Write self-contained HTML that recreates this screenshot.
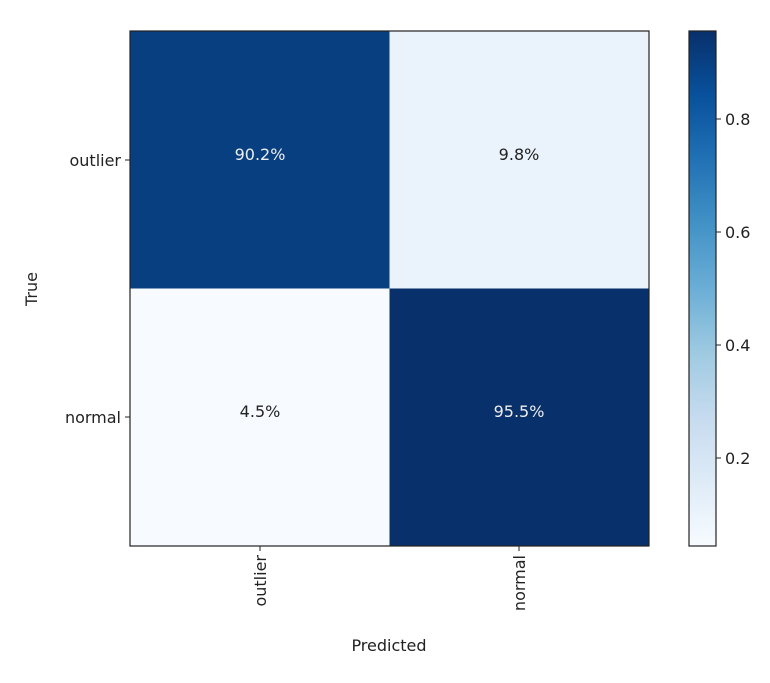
<!DOCTYPE html>
<html><head><style>body{margin:0;background:#fff;}</style></head><body>
<svg width="770" height="678" xmlns="http://www.w3.org/2000/svg" font-family="DejaVu Sans, Liberation Sans, sans-serif" font-size="16">
<defs><linearGradient id="g" x1="0" y1="1" x2="0" y2="0">
<stop offset="0" stop-color="#f7fbff"/><stop offset="0.125" stop-color="#deebf7"/><stop offset="0.25" stop-color="#c6dbef"/><stop offset="0.375" stop-color="#9ecae1"/><stop offset="0.5" stop-color="#6baed6"/><stop offset="0.625" stop-color="#4292c6"/><stop offset="0.75" stop-color="#2171b5"/><stop offset="0.875" stop-color="#08519c"/><stop offset="1" stop-color="#08306b"/></linearGradient></defs>
<rect x="130" y="31" width="259.5" height="257.5" fill="#083f80"/>
<rect x="389.5" y="31" width="259.5" height="257.5" fill="#eaf2fb"/>
<rect x="130" y="288.5" width="259.5" height="257.5" fill="#f7fbff"/>
<rect x="389.5" y="288.5" width="259.5" height="257.5" fill="#08306b"/>
<rect x="130" y="31" width="519" height="515" fill="none" stroke="#222" stroke-width="1.2"/>
<g text-anchor="middle">
<text x="260" y="160" fill="#eee">90.2%</text>
<text x="519" y="160" fill="#222">9.8%</text>
<text x="260" y="417" fill="#222">4.5%</text>
<text x="519" y="417" fill="#eee">95.5%</text>
</g>
<g stroke="#222"><line x1="125" y1="160" x2="130" y2="160"/><line x1="125" y1="417" x2="130" y2="417"/><line x1="260" y1="546" x2="260" y2="551"/><line x1="519" y1="546" x2="519" y2="551"/></g>
<g text-anchor="end" fill="#222">
<text x="121" y="166">outlier</text><text x="121" y="423">normal</text></g>
<text transform="translate(266,555) rotate(-90)" text-anchor="end" fill="#222">outlier</text>
<text transform="translate(525,555) rotate(-90)" text-anchor="end" fill="#222">normal</text>
<text x="389" y="651" text-anchor="middle" fill="#222">Predicted</text>
<text transform="translate(37,289) rotate(-90)" text-anchor="middle" fill="#222">True</text>
<rect x="689" y="31" width="27" height="515" fill="url(#g)" stroke="#222" stroke-width="1.2"/>
<g stroke="#222"><line x1="716" y1="119" x2="721" y2="119"/><line x1="716" y1="232" x2="721" y2="232"/><line x1="716" y1="345" x2="721" y2="345"/><line x1="716" y1="458" x2="721" y2="458"/></g>
<g fill="#222"><text x="725" y="125">0.8</text><text x="725" y="238">0.6</text><text x="725" y="351">0.4</text><text x="725" y="464">0.2</text></g>
</svg>
</body></html>
